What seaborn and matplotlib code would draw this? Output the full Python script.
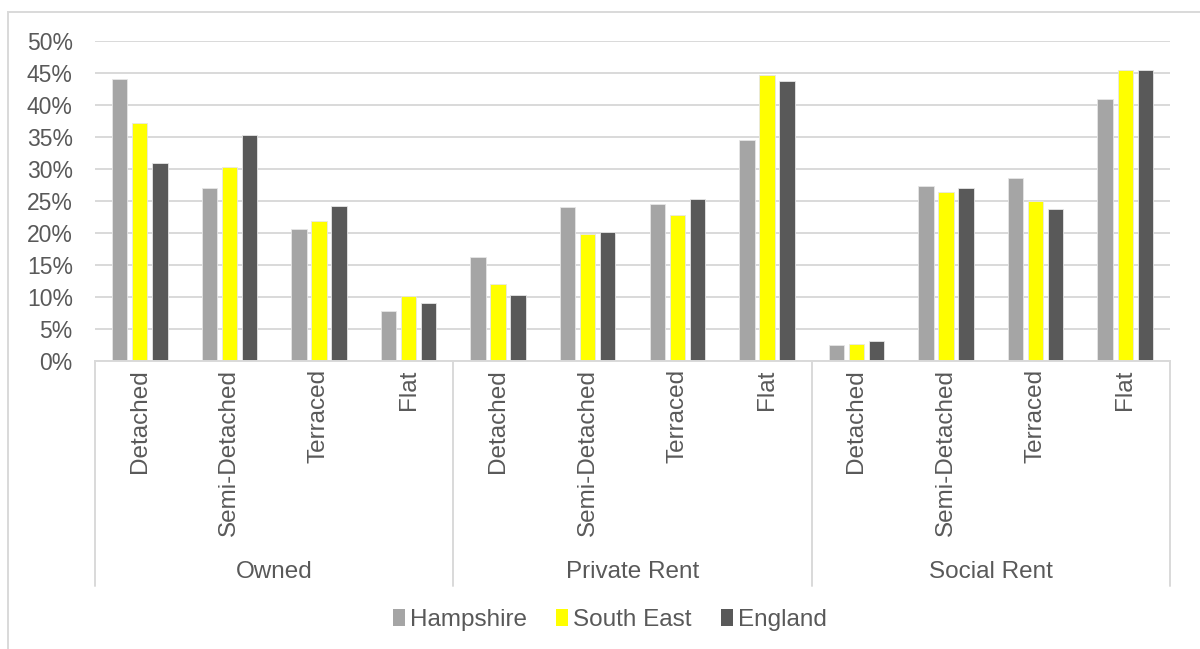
import matplotlib
matplotlib.use("Agg")
import matplotlib.pyplot as plt
import matplotlib.patches as mpatches
import seaborn as sns
import pandas as pd
from matplotlib.ticker import FuncFormatter

tenures = ["Owned", "Private Rent", "Social Rent"]
types = ["Detached", "Semi-Detached", "Terraced", "Flat"]
regions = ["Hampshire", "South East", "England"]

hampshire = [44.0, 27.0, 20.7, 7.8, 16.2, 24.0, 24.6, 34.6, 2.5, 27.4, 28.6, 41.0]
south_east = [37.2, 30.3, 21.8, 10.1, 12.1, 19.9, 22.8, 44.7, 2.6, 26.4, 25.0, 45.4]
england = [31.0, 35.3, 24.2, 9.0, 10.3, 20.2, 25.3, 43.8, 3.2, 27.0, 23.8, 45.5]

colors = {"Hampshire": "#A5A5A5", "South East": "#FFFF00", "England": "#595959"}
text_color = "#595959"
grid_color = "#D9D9D9"

cats = [f"{t}|{ty}" for t in tenures for ty in types]
rows = []
for reg, vals in zip(regions, [hampshire, south_east, england]):
    for c, v in zip(cats, vals):
        rows.append({"cat": c, "region": reg, "value": v})
df = pd.DataFrame(rows)

sns.set_theme(style="white")
plt.rcParams["font.family"] = ["Liberation Sans", "DejaVu Sans"]

fig = plt.figure(figsize=(12, 6.49), dpi=100)
ax = fig.add_axes([95 / 1200, 1 - 361 / 649, (1170 - 95) / 1200, 320 / 649])

sns.barplot(data=df, x="cat", y="value", hue="region", order=cats,
            hue_order=regions, palette=colors, saturation=1, width=0.67, gap=0.23,
            edgecolor="#E6E6E6", linewidth=0.6, ax=ax, legend=False)

ax.set_xlim(-0.5, len(cats) - 0.5)
ax.set_ylim(0, 50)
ax.set_yticks(range(0, 51, 5))
ax.yaxis.set_major_formatter(FuncFormatter(lambda v, p: f"{int(v)}%"))
ax.grid(axis="y", color=grid_color, linewidth=1.4)
ax.set_axisbelow(True)
for s in ["top", "right", "left"]:
    ax.spines[s].set_visible(False)
ax.spines["bottom"].set_color(grid_color)
ax.spines["bottom"].set_linewidth(1.4)
ax.set_xlabel("")
ax.set_ylabel("")
ax.tick_params(axis="y", length=0, pad=16, labelsize=16.5, labelcolor=text_color)
ax.set_xticks(range(len(cats)))
ax.set_xticklabels([c.split("|")[1] for c in cats], rotation=90, fontsize=17.5,
                   color=text_color, va="top")
ax.tick_params(axis="x", length=0, pad=6)

# group separators and labels
trans = ax.get_xaxis_transform()
for i in range(len(tenures) + 1):
    x = i * len(types) - 0.5
    ax.plot([x, x], [0, -0.703], transform=trans, color=grid_color,
            linewidth=1.4, clip_on=False)
for i, t in enumerate(tenures):
    x = i * len(types) + (len(types) - 1) / 2
    ax.text(x, -0.659, t, transform=trans, ha="center", va="center",
            fontsize=17.5, color=text_color)

# legend
handles = [mpatches.Patch(facecolor=colors[r], edgecolor="none", label=r) for r in regions]
fig.legend(handles=handles, loc="center", bbox_to_anchor=(610 / 1200, 1 - 620 / 649),
           ncol=3, frameon=False, fontsize=17.5, handlelength=0.5, handleheight=0.7,
           handletextpad=0.2, columnspacing=1.2, labelcolor=text_color)

# outer border
fig.patches.append(mpatches.Rectangle((8 / 1200, -0.05), 1.2, 1 - 12 / 649 + 0.05,
                                      transform=fig.transFigure, fill=False,
                                      edgecolor=grid_color, linewidth=1.4))

fig.savefig("out.png", dpi=100)
